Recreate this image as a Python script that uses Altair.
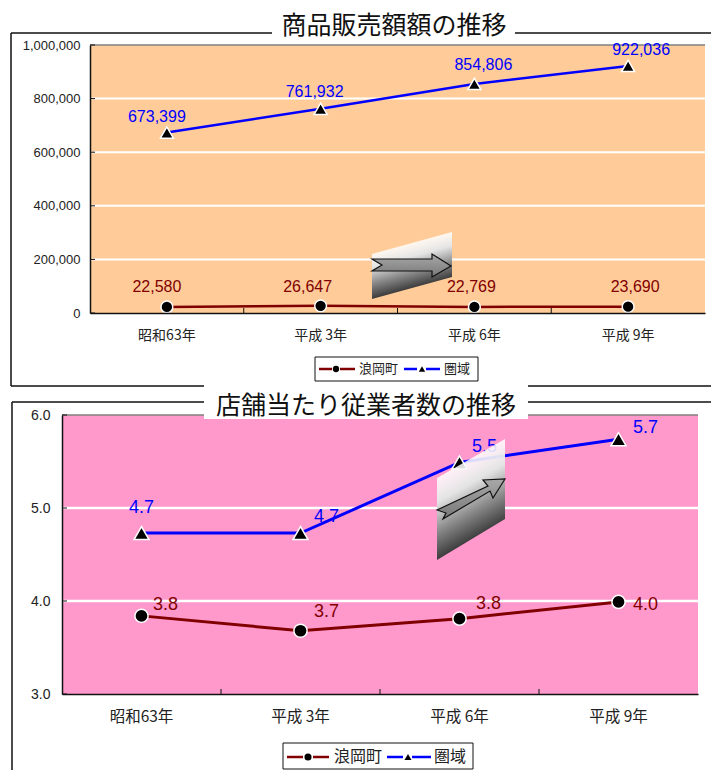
import altair as alt
import pandas as pd

CATEGORIES = ["昭和63年", "平成 3年", "平成 6年", "平成 9年"]
SERIES = ["浪岡町", "圏域"]
SALES_TOWN = [22580, 26647, 22769, 23690]
SALES_AREA = [673399, 761932, 854806, 922036]
STAFF_TOWN = [3.84, 3.68, 3.81, 3.99]
STAFF_AREA = [4.73, 4.73, 5.49, 5.74]
SALES_TICKS = [0, 200000, 400000, 600000, 800000, 1000000]
STAFF_TICKS = [3.0, 4.0, 5.0, 6.0]
TITLE_SALES = "商品販売額額の推移"
TITLE_STAFF = "店舗当たり従業者数の推移"

RED = "#800000"
BLUE = "#0000ff"
LATIN = "Liberation Sans"
CJK = "Noto Sans CJK JP"
INK = "#111111"
LABEL_INK = "#222222"
CANVAS_W, CANVAS_H = 711, 770

# Label offsets from each point, per series
SALES_OFFSETS = {
    SERIES[0]: [(-10, -20), (-13, -19), (-3, -20), (7, -20)],
    SERIES[1]: [(-10, -16), (-6, -17), (9, -19), (13, -16)],
}
STAFF_OFFSETS = {
    SERIES[0]: [(24, -11), (26, -19), (29, -15), (27, 3)],
    SERIES[1]: [(0, -25), (26, -16), (25, -15), (27, -11)],
}

one_row = alt.Data(values=[{"k": 0}])


def long_table(values):
    return pd.DataFrame({"cat": CATEGORIES, "v": values, "i": range(len(values))})


def hline(x0, x1, y, color=INK, width=1.5):
    return alt.Chart(one_row).mark_rule(color=color, strokeWidth=width).encode(
        x=alt.value(x0), x2=alt.value(x1), y=alt.value(y))


def vline(x, y0, y1, color=INK, width=1.5):
    return alt.Chart(one_row).mark_rule(color=color, strokeWidth=width).encode(
        x=alt.value(x), y=alt.value(y0), y2=alt.value(y1))


def box(x0, x1, y0, y1, fill, stroke=None):
    kw = {"fill": fill}
    if stroke:
        kw.update(stroke=stroke, strokeWidth=1)
    return alt.Chart(one_row).mark_rect(**kw).encode(
        x=alt.value(x0), x2=alt.value(x1), y=alt.value(y0), y2=alt.value(y1))


def caption(text, x, y, size, font=CJK, align="left", color=LABEL_INK):
    return alt.Chart(one_row).mark_text(
        text=text, font=font, fontSize=size, align=align, baseline="middle", color=color
    ).encode(x=alt.value(x), y=alt.value(y))


def key_entries(frame, rows, font_size, cy):
    layers = [box(*frame, "white", stroke=INK)]
    for name, color, shape, a, b, c, d, mx, tx, msize in rows:
        layers.append(hline(a, b, cy, color, 2.5))
        layers.append(hline(c, d, cy, color, 2.5))
        layers.append(alt.Chart(one_row).mark_point(
            shape=shape, filled=True, fill="black", size=msize, opacity=1, strokeWidth=0
        ).encode(x=alt.value(mx), y=alt.value(cy)))
        layers.append(caption(name, tx, cy, font_size))
    return layers


def skew_panel(x, y, panel_path, arrow_path):
    shade = alt.Gradient(
        gradient="linear", x1=0, y1=0.32, x2=0.197, y2=0.937,
        stops=[
            alt.GradientStop(offset=0, color="rgba(255,255,255,0.85)"),
            alt.GradientStop(offset=0.3, color="#e4e4e4"),
            alt.GradientStop(offset=0.65, color="#8c8c8c"),
            alt.GradientStop(offset=1, color="#3c3c3c"),
        ],
    )
    arrow_fill = alt.Gradient(
        gradient="linear", x1=0, y1=0, x2=0, y2=1,
        stops=[alt.GradientStop(offset=0, color="#a8a8a8"),
               alt.GradientStop(offset=1, color="#787878")],
    )
    return [
        alt.Chart(one_row).mark_point(
            shape=panel_path, size=4, filled=True, fill=shade, opacity=1, strokeWidth=0
        ).encode(x=alt.value(x), y=alt.value(y)),
        alt.Chart(one_row).mark_point(
            shape=arrow_path, size=4, filled=True, fill=arrow_fill, stroke=INK,
            strokeWidth=1.2, opacity=1
        ).encode(x=alt.value(x), y=alt.value(y)),
    ]


def plot_layers(town, area, rect, bg, domain, ticks, tick_fmt, label_fmt, offsets, label_size,
                y_size, y_pad, x_size, x_pad, line_w, grid_w, msizes):
    """Everything inside one plot area; each layer repeats the pixel range of its scales."""
    left, right, top, bottom = rect
    x_scale = alt.Scale(type="band", domain=CATEGORIES, range=[left, right],
                        paddingInner=0, paddingOuter=0)
    y_scale = alt.Scale(domain=domain, range=[bottom, top], nice=False)
    x_plain = alt.X("cat:N", scale=x_scale, axis=None, title=None)
    y_plain = alt.Y("v:Q", scale=y_scale, axis=None, title=None)

    layers = [box(left, right, top, bottom, bg)]
    # White gridlines, with inward ticks on the value axis
    layers.append(alt.Chart(pd.DataFrame({"v": ticks[1:-1]})).mark_rule(
        color="white", strokeWidth=grid_w).encode(y=y_plain, x=alt.value(left), x2=alt.value(right)))
    layers.append(hline(left, right, top, "#808080", 1.5))
    layers.append(alt.Chart(pd.DataFrame({"v": ticks})).mark_rule(
        color=INK, strokeWidth=1).encode(y=y_plain, x=alt.value(left), x2=alt.value(left + 5)))
    # Ticks between the categories, pointing up into the plot
    layers.append(alt.Chart(pd.DataFrame({"cat": CATEGORIES[1:]})).mark_rule(
        color=INK, strokeWidth=1).encode(
        x=alt.X("cat:N", scale=x_scale, axis=None, bandPosition=0),
        y=alt.value(bottom - 5), y2=alt.value(bottom)))

    # The layer that carries both axes
    x_axis = alt.Axis(orient="bottom", offset=bottom - CANVAS_H, labelAngle=0, ticks=False,
                      labelFont=CJK, labelFontSize=x_size, labelColor=LABEL_INK,
                      domainColor=INK, domainWidth=1.5, labelPadding=x_pad, grid=False, zindex=1)
    y_axis = alt.Axis(orient="left", offset=-left, values=ticks, format=tick_fmt, ticks=False,
                      labelFont=LATIN, labelFontSize=y_size, labelColor=LABEL_INK,
                      labelPadding=y_pad, domainColor=INK, domainWidth=1.5, grid=False, zindex=1)

    for k, (values, color, name) in enumerate(zip([town, area], [RED, BLUE], SERIES)):
        table = long_table(values)
        if k == 0:
            enc_x = alt.X("cat:N", scale=x_scale, axis=x_axis, title=None, sort=CATEGORIES)
            enc_y = alt.Y("v:Q", scale=y_scale, axis=y_axis, title=None)
        else:
            enc_x, enc_y = x_plain, y_plain
        layers.append(alt.Chart(table).mark_line(color=color, strokeWidth=line_w).encode(
            x=enc_x, y=enc_y, order=alt.Order("i:Q")))
        layers.append(alt.Chart(table).mark_point(
            shape="circle" if k == 0 else "triangle-up", size=msizes[k], filled=True,
            fill="black", stroke="white", strokeWidth=1.5, opacity=1
        ).encode(x=x_plain, y=y_plain))
        for i, (dx, dy) in enumerate(offsets[name]):
            layers.append(alt.Chart(table[table.i == i]).mark_text(
                font=LATIN, fontSize=label_size, color=color, dx=dx, dy=dy, baseline="middle"
            ).encode(x=x_plain, y=y_plain, text=alt.Text("v:Q", format=label_fmt)))
    return layers


# Upper chart: frame open at the title and on the right
layers = [
    hline(11, 272, 33), hline(515, CANVAS_W, 33),
    vline(11, 33, 386), hline(11, CANVAS_W, 386),
]
layers += plot_layers(SALES_TOWN, SALES_AREA, (90, 705, 45, 313), "#ffcc99", [0, 1000000],
                      SALES_TICKS, ",d", ",d", SALES_OFFSETS, 16, 13, 10, 14, 15, 2.5, 2, (140, 170))
layers += key_entries(
    (315, 478, 357, 381),
    [(SERIES[0], RED, "circle", 319, 332, 340, 355, 336, 359, 40),
     (SERIES[1], BLUE, "triangle-up", 404, 417, 426, 440, 422, 444, 40)],
    13, 369)
layers += skew_panel(372, 254,
                     "M0,0 L80,-22 L80,23 L0,45 Z",
                     "M0,5 L60,5 L60,0 L79,12 L60,23 L60,17 L0,17 L10,11 Z")
layers.append(caption(TITLE_SALES, 394, 26, 25, align="center", color=INK))

# Lower chart
layers += [hline(12, CANVAS_W, 402), vline(12, 402, CANVAS_H)]
layers += plot_layers(STAFF_TOWN, STAFF_AREA, (62, 698, 415, 694), "#ff99cc", [3.0, 6.0],
                      STAFF_TICKS, ".1f", ".1f", STAFF_OFFSETS, 18, 14, 12, 15.5, 15, 3, 2.5, (175, 225))
layers += key_entries(
    (283, 473, 743, 769),
    [(SERIES[0], RED, "circle", 287, 303, 313, 329, 308, 334, 50),
     (SERIES[1], BLUE, "triangle-up", 387, 403, 412, 431, 408, 434, 50)],
    16, 757)
layers += skew_panel(437, 478,
                     "M0,0 L68,-39 L68,41 L0,82 Z",
                     "M0,32 L51,8 L46,2 L68,1 L56,20 L53,13 L6,41 L9,35 Z")
layers.append(box(204, 528, 385, 419, "white"))
layers.append(caption(TITLE_STAFF, 366, 406, 25, align="center", color=INK))

chart = alt.layer(*layers).resolve_scale(x="independent", y="independent").resolve_axis(
    x="independent", y="independent"
).properties(
    width=CANVAS_W, height=CANVAS_H,
    padding=0,
    background="white",
    autosize=alt.AutoSizeParams(type="none"),
    view=alt.ViewConfig(stroke=None),
)

chart.save("out.html", embed_options={"renderer": "svg", "actions": False})
